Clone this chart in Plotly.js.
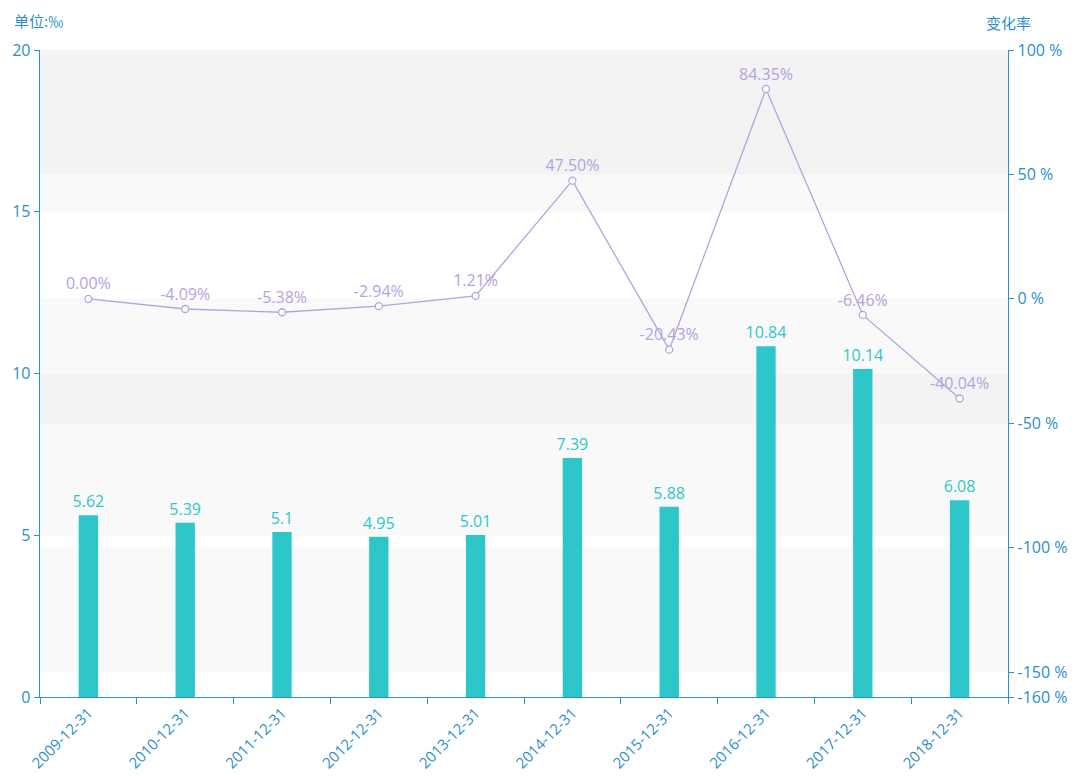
<!DOCTYPE html>
<html>
<head>
<meta charset="utf-8">
<script src="https://cdn.plot.ly/plotly-3.0.1.min.js"></script>
<style>html,body{margin:0;padding:0;background:#fff;}#chart{width:1077px;height:776px;}</style>
</head>
<body>
<div id="chart"></div>
<script>
const categories = ["2009-12-31","2010-12-31","2011-12-31","2012-12-31","2013-12-31","2014-12-31","2015-12-31","2016-12-31","2017-12-31","2018-12-31"];
const barValues = [5.62, 5.39, 5.1, 4.95, 5.01, 7.39, 5.88, 10.84, 10.14, 6.08];
const changeRates = [0.00, -4.09, -5.38, -2.94, 1.21, 47.50, -20.43, 84.35, -6.46, -40.04];
const leftTicks = [0, 5, 10, 15, 20];
const rightTicks = [-160, -150, -100, -50, 0, 50, 100];
const rightTickText = rightTicks.map(v => v + " %");

const axisColor = "#2a8fcb";
const barColor = "#2ec7c9";
const lineColor = "#b6a2de";
const font = "'Open Sans', 'Noto Sans CJK SC', sans-serif";
const cjkFont = "'Noto Sans CJK SC', sans-serif";

const shapes = [];
for (let i = 0; i < leftTicks.length - 1; i++) {
  if (i % 2 === 1) shapes.push({type:'rect', xref:'paper', yref:'y', x0:0, x1:1, y0:leftTicks[i], y1:leftTicks[i+1], fillcolor:'rgba(200,200,200,0.11)', line:{width:0}, layer:'below'});
}
for (let i = 0; i < rightTicks.length - 1; i++) {
  if (i % 2 === 1) shapes.push({type:'rect', xref:'paper', yref:'y2', x0:0, x1:1, y0:rightTicks[i], y1:rightTicks[i+1], fillcolor:'rgba(200,200,200,0.11)', line:{width:0}, layer:'below'});
}

const bars = {
  type:'bar', x:categories, y:barValues, yaxis:'y', width:0.2,
  marker:{color:barColor},
  text:barValues.map(String), textposition:'outside', constraintext:'none',
  textfont:{color:barColor, size:16, family:font},
  cliponaxis:false, hoverinfo:'none'
};
const line = {
  type:'scatter', mode:'lines+markers+text', x:categories, y:changeRates, yaxis:'y2',
  line:{color:lineColor, width:1.3},
  marker:{size:7, color:'#ffffff', line:{color:lineColor, width:1.3}},
  text:changeRates.map(v => v.toFixed(2) + "%"), textposition:'top center',
  textfont:{color:lineColor, size:16, family:font},
  cliponaxis:false, hoverinfo:'none'
};

const layout = {
  width:1077, height:776,
  margin:{l:40, r:69, t:50, b:79},
  paper_bgcolor:'#ffffff', plot_bgcolor:'#ffffff',
  showlegend:false,
  font:{family:font, color:axisColor, size:14},
  xaxis:{
    type:'category', range:[-0.5, categories.length - 0.5], automargin:false, tickangle:-45, tickson:'boundaries', ticks:'outside', ticklen:6, tickcolor:axisColor,
    showline:true, linecolor:axisColor, linewidth:1.3, showgrid:false, zeroline:false,
    tickfont:{color:axisColor, size:15, family:font}
  },
  yaxis:{
    range:[0,20], automargin:false, tickvals:leftTicks, ticks:'outside', ticklen:5, tickcolor:axisColor,
    showline:true, linecolor:axisColor, linewidth:1.3, showgrid:false, zeroline:false,
    tickfont:{color:axisColor, size:16, family:font}
  },
  yaxis2:{
    range:[-160,100], automargin:false, overlaying:'y', side:'right', tickvals:rightTicks, ticktext:rightTickText,
    ticks:'outside', ticklen:5, tickcolor:axisColor,
    showline:true, linecolor:axisColor, linewidth:1.3, showgrid:false, zeroline:false,
    tickfont:{color:axisColor, size:16, family:font}
  },
  shapes:shapes,
  annotations:[
    {xref:'paper', yref:'paper', x:-0.029, y:1.046, xanchor:'left', yanchor:'middle', text:'单位:‰', showarrow:false, font:{color:axisColor, size:15, family:cjkFont}},
    {xref:'paper', yref:'paper', x:1.001, y:1.043, xanchor:'center', yanchor:'middle', text:'变化率', showarrow:false, font:{color:axisColor, size:15, family:cjkFont}}
  ]
};

Plotly.newPlot('chart', [bars, line], layout, {displayModeBar:false, staticPlot:true});
</script>
</body>
</html>
